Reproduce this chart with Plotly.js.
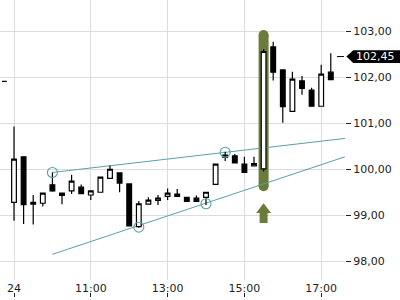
<!DOCTYPE html>
<html>
<head>
<meta charset="utf-8">
<script src="https://cdn.plot.ly/plotly-3.0.1.min.js"></script>
<style>html,body{margin:0;padding:0;background:#fff;}#chart{width:400px;height:300px;}</style>
</head>
<body>
<div id="chart"></div>
<script>
var day = '2024-05-24 ';
var times = ['08:45','09:00','09:15','09:30','09:45','10:00','10:15','10:30','10:45','11:00','11:15','11:30','11:45',
  '12:00','12:15','12:30','12:45','13:00','13:15','13:30','13:45','14:00','14:15','14:30','14:45','15:00','15:15',
  '15:30','15:45','16:00','16:15','16:30','16:45','17:00','17:15'];
var openV  = [101.91, 99.28,100.27, 99.24, 99.26, 99.66, 99.48, 99.53, 99.61, 99.44, 99.50, 99.80, 99.92,
  99.68, 98.75, 99.24, 99.32, 99.41, 99.46, 99.39, 99.37, 99.39, 99.67,100.26,100.29,100.11,100.07,
  100.01,102.66,102.16,101.26,101.92,101.72,101.37,102.11];
var highV  = [101.91,100.93,100.28, 99.44, 99.49, 99.93, 99.49, 99.88, 99.67, 99.54, 99.84,100.08, 99.93,
  99.69, 99.31, 99.39, 99.44, 99.58, 99.57, 99.40, 99.43, 99.51,100.12,100.38,100.33,100.27,100.27,
  102.61,102.77,102.17,102.12,102.03,101.77,102.27,102.52];
var lowV   = [101.91, 98.88, 98.81, 98.80, 99.19, 99.51, 99.24, 99.46, 99.46, 99.33, 99.49, 99.79, 99.50,
  98.76, 98.73, 99.23, 99.22, 99.33, 99.40, 99.29, 99.29, 99.22, 99.66,100.18,100.13, 99.92,100.06,
  99.95,101.93,101.01,101.25,101.62,101.36,101.36,101.94];
var closeV = [101.91,100.22, 99.23, 99.28, 99.48, 99.53, 99.43, 99.74, 99.47, 99.53, 99.83,100.00, 99.70,
  98.77, 99.25, 99.33, 99.37, 99.48, 99.41, 99.30, 99.30, 99.50,100.11,100.31,100.14, 99.93,100.12,
  102.56,102.11,101.36,101.96,101.76,101.37,102.07,101.95];

// trend lines
var upperLineT = ['10:00','17:37'];
var upperLineY = [99.93, 100.67];
var lowerLineT = ['10:00','17:37'];
var lowerLineY = [98.15, 100.27];
// touch points
var touchT = ['10:00','14:30','12:15','14:00'];
var touchY = [99.93, 100.37, 98.74, 99.25];
// signal highlight & arrow
var signalT = '15:30';
var highlightY = [99.63, 102.92];
var arrowShaftY = [98.83, 99.06];
var arrowHeadY = 99.12;
// last price
var lastPrice = 102.45;
var lastPriceText = '102,45';

// axes
var xTickT = ['09:00','11:00','13:00','15:00','17:00'];
var xTickText = ['24','11:00','13:00','15:00','17:00'];
var yTickVals = [98, 99, 100, 101, 102, 103];
var yTickText = ['98,00','99,00','100,00','101,00','102,00','103,00'];
var xRange = ['08:38:07','17:37:11'];
var yRange = [97.59, 103.68];

function d(t){ return day + t; }
var teal = '#5c9fa6';
var olive = '#6b7b3a';

var traces = [
  {type:'scatter', mode:'lines', x:[d(signalT),d(signalT)], y:arrowShaftY,
   line:{color:olive, width:8}, hoverinfo:'skip'},
  {type:'scatter', mode:'markers', x:[d(signalT)], y:[arrowHeadY],
   marker:{color:olive, size:13, symbol:'triangle-up', line:{width:0}}, hoverinfo:'skip'},
  {type:'candlestick', x:times.map(d), open:openV, high:highV, low:lowV, close:closeV,
   increasing:{line:{color:'#000', width:1.2}, fillcolor:'#fff'},
   decreasing:{line:{color:'#000', width:1.2}, fillcolor:'#000'},
   whiskerwidth:0, hoverinfo:'skip'},
  {type:'scatter', mode:'markers', x:touchT.map(d), y:touchY,
   marker:{symbol:'circle-open', size:10, color:teal, line:{width:1.1, color:teal}}, hoverinfo:'skip'},
  {type:'scatter', mode:'markers', x:[], y:[], xaxis:'x2', yaxis:'y', hoverinfo:'skip'}
];

var fontBase = {family:'DejaVu Sans', size:11, color:'#222'};
var hl = {fillcolor:olive, line:{width:0}, layer:'between', xref:'x', yref:'y'};
function ext(o){ var r = {}; for (var k in hl) r[k] = hl[k]; for (var k2 in o) r[k2] = o[k2]; return r; }

var layout = {
  width:400, height:300,
  margin:{l:0, r:55, t:0, b:3},
  paper_bgcolor:'#fff', plot_bgcolor:'#fff',
  showlegend:false,
  font:fontBase,
  xaxis:{type:'date', range:xRange.map(d), tickvals:xTickT.map(d), ticktext:xTickText,
    ticks:'', showgrid:true, gridcolor:'#dcdcdc', gridwidth:1, zeroline:false, showline:false,
    rangeslider:{visible:false}, fixedrange:true, anchor:'y', tickfont:fontBase},
  xaxis2:{type:'date', overlaying:'x', anchor:'free', position:0, range:xRange.map(d),
    tickvals:xTickT.map(d), ticks:'inside', ticklen:4, tickcolor:'#222', tickwidth:1,
    showticklabels:false, showgrid:false, zeroline:false, showline:false, fixedrange:true},
  yaxis:{side:'right', domain:[0.057,1], range:yRange, tickvals:yTickVals, ticktext:yTickText,
    ticks:'outside', ticklen:5, tickcolor:'#222', tickwidth:1, showgrid:true, gridcolor:'#dcdcdc',
    zeroline:false, showline:false, fixedrange:true, tickfont:fontBase},
  shapes:[
    ext({type:'rect', xsizemode:'pixel', xanchor:d(signalT), x0:-5, x1:5, y0:highlightY[0], y1:highlightY[1]}),
    ext({type:'circle', xsizemode:'pixel', ysizemode:'pixel', xanchor:d(signalT), yanchor:highlightY[0],
         x0:-5, x1:5, y0:-5, y1:5}),
    ext({type:'circle', xsizemode:'pixel', ysizemode:'pixel', xanchor:d(signalT), yanchor:highlightY[1],
         x0:-5, x1:5, y0:-5, y1:5}),
    {type:'line', xref:'x', yref:'y', layer:'between', x0:d(upperLineT[0]), x1:d(upperLineT[1]),
     y0:upperLineY[0], y1:upperLineY[1], line:{color:teal, width:1}},
    {type:'line', xref:'x', yref:'y', layer:'between', x0:d(lowerLineT[0]), x1:d(lowerLineT[1]),
     y0:lowerLineY[0], y1:lowerLineY[1], line:{color:teal, width:1}},
    {type:'line', xref:'paper', yref:'y', x0:0.977, x1:0.997, y0:lastPrice, y1:lastPrice,
     line:{color:'#000', width:1}},
    {type:'path', xref:'paper', yref:'y',
     path:'M 1.004,'+lastPrice+' L 1.024,'+(lastPrice+0.14)+' L 1.17,'+(lastPrice+0.14)+
          ' L 1.17,'+(lastPrice-0.14)+' L 1.024,'+(lastPrice-0.14)+' Z',
     fillcolor:'#000', line:{width:0}}
  ],
  annotations:[
    {xref:'paper', yref:'y', x:1, y:lastPrice, xanchor:'left', yanchor:'middle', xshift:9,
     text:lastPriceText, showarrow:false, font:{family:'DejaVu Sans', size:11, color:'#fff'}}
  ]
};
Plotly.newPlot('chart', traces, layout, {staticPlot:true, displayModeBar:false});
</script>
</body>
</html>
